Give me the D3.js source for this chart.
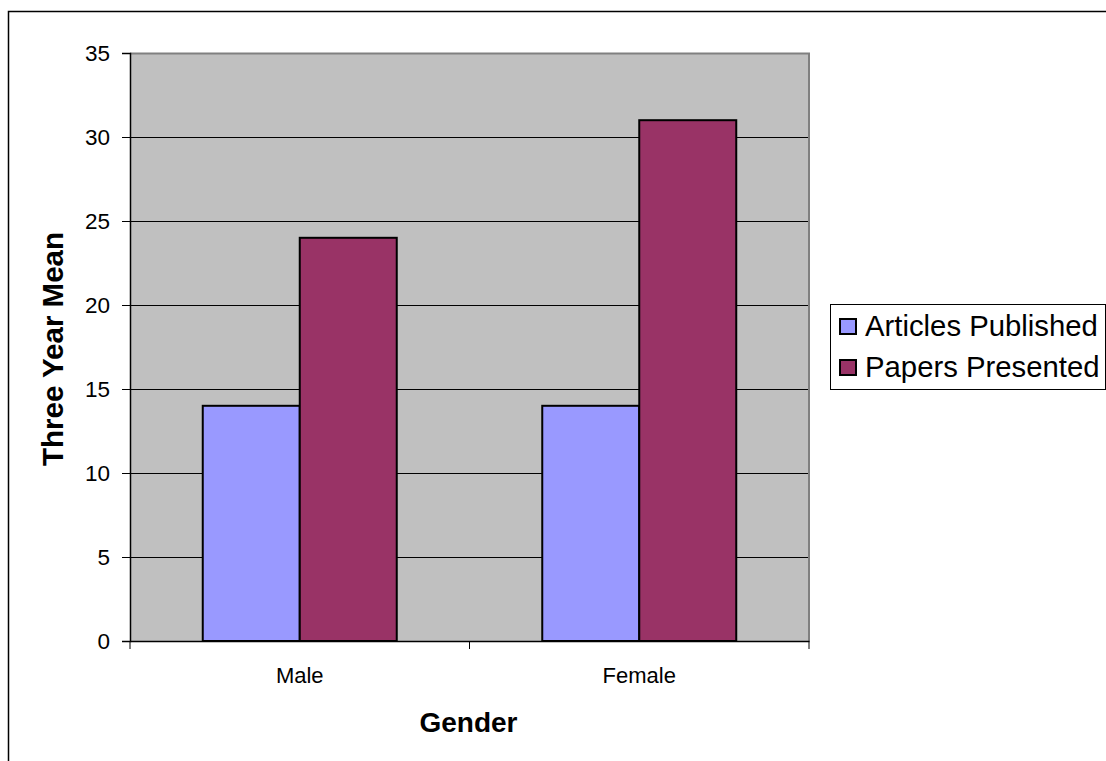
<!DOCTYPE html>
<html>
<head>
<meta charset="utf-8">
<script src="https://cdn.jsdelivr.net/npm/d3@7"></script>
<style>
  html, body { margin: 0; padding: 0; background: #fff; }
  svg { display: block; font-family: Arial, "Liberation Sans", sans-serif; }
</style>
</head>
<body>
<svg id="chart" width="1106" height="761"></svg>
<script>
// Categories, series and tick labels
const categories = ["Male", "Female"];
const seriesNames = ["Articles Published", "Papers Presented"];
const articlesPublished = [14, 14];
const papersPresented = [24, 31];
const yTicks = [0, 5, 10, 15, 20, 25, 30, 35];
const seriesColors = ["#9999FF", "#993366"];

const seriesValues = [articlesPublished, papersPresented];

const svg = d3.select("#chart");
const W = 1106, H = 761;

// Outer chart frame (only the top and left edges fall inside the page)
svg.append("rect")
  .attr("x", 8.5).attr("y", 11.5)
  .attr("width", W + 20).attr("height", H + 20)
  .attr("fill", "#fff").attr("stroke", "#000").attr("stroke-width", 1.5);

const plot = { left: 130, top: 53, right: 809, bottom: 641 };

const x = d3.scaleBand().domain(categories).range([plot.left, plot.right]).paddingInner(0).paddingOuter(0);
const y = d3.scaleLinear().domain([0, 35]).range([plot.bottom, plot.top]);

// Plot background
svg.append("rect")
  .attr("x", plot.left).attr("y", plot.top)
  .attr("width", plot.right - plot.left).attr("height", plot.bottom - plot.top)
  .attr("fill", "#C0C0C0");

// Horizontal gridlines
svg.append("g").selectAll("line")
  .data(yTicks.filter(d => d > 0 && d < 35))
  .join("line")
  .attr("x1", plot.left).attr("x2", plot.right)
  .attr("y1", d => Math.round(y(d)) + 0.5).attr("y2", d => Math.round(y(d)) + 0.5)
  .attr("stroke", "#000").attr("stroke-width", 1);

// Plot border (top and right, grey)
svg.append("path")
  .attr("d", `M${plot.left},${plot.top + 0.5}H${plot.right}V${plot.bottom}`)
  .attr("fill", "none").attr("stroke", "#808080").attr("stroke-width", 2);

// Bars: group width is 2 bars plus a 1.5-bar gap
const barW = x.bandwidth() / 3.5;
const groups = svg.append("g").selectAll("g")
  .data(categories)
  .join("g");

groups.selectAll("rect")
  .data((c, ci) => seriesValues.map((vals, si) => ({ c, si, v: vals[ci] })))
  .join("rect")
  .attr("x", d => x(d.c) + x.bandwidth() / 2 + (d.si - 1) * barW)
  .attr("y", d => y(d.v))
  .attr("width", barW)
  .attr("height", d => y(0) - y(d.v))
  .attr("fill", d => seriesColors[d.si])
  .attr("stroke", "#000").attr("stroke-width", 2);

// Y axis
const yAxis = d3.axisLeft(y).tickValues(yTicks).tickSize(8).tickPadding(12).tickFormat(d3.format("d"));
const gy = svg.append("g").attr("transform", `translate(${plot.left},0)`).call(yAxis);
gy.select(".domain").attr("stroke", "#000").attr("stroke-width", 1.5);
gy.selectAll(".tick line").attr("stroke", "#000").attr("stroke-width", 1);
gy.selectAll(".tick text").attr("font-size", 22.5).attr("fill", "#000")
  .attr("font-family", "Arial, 'Liberation Sans', sans-serif");

// X axis: ticks sit at category boundaries
const xAxis = d3.axisBottom(x).tickSize(0).tickPadding(26);
const gx = svg.append("g").attr("transform", `translate(0,${plot.bottom})`).call(xAxis);
gx.select(".domain").attr("stroke", "#000").attr("stroke-width", 1.5);
gx.selectAll(".tick text").attr("font-size", 22).attr("fill", "#000")
  .attr("font-family", "Arial, 'Liberation Sans', sans-serif");
const bounds = categories.map(c => x(c)).concat([x(categories[categories.length - 1]) + x.bandwidth()]);
svg.append("g").selectAll("line")
  .data(bounds)
  .join("line")
  .attr("x1", d => d).attr("x2", d => d)
  .attr("y1", plot.bottom).attr("y2", plot.bottom + 8)
  .attr("stroke", "#000").attr("stroke-width", 1);

// Axis titles
svg.append("text")
  .attr("x", (plot.left + plot.right) / 2 - 1).attr("y", 732)
  .attr("text-anchor", "middle")
  .attr("font-size", 28).attr("font-weight", "bold")
  .text("Gender");

svg.append("text")
  .attr("transform", `translate(63,${(plot.top + plot.bottom) / 2 + 2}) rotate(-90)`)
  .attr("text-anchor", "middle")
  .attr("font-size", 29.5).attr("font-weight", "bold")
  .text("Three Year Mean");

// Legend
const legend = svg.append("g");
legend.append("rect")
  .attr("x", 830.5).attr("y", 304.5)
  .attr("width", 275).attr("height", 85)
  .attr("fill", "#fff").attr("stroke", "#000").attr("stroke-width", 1);

const items = legend.selectAll("g.item")
  .data(seriesNames)
  .join("g")
  .attr("class", "item")
  .attr("transform", (d, i) => `translate(0,${i * 41})`);

items.append("rect")
  .attr("x", 840).attr("y", 319)
  .attr("width", 16).attr("height", 15)
  .attr("fill", (d, i) => seriesColors[i])
  .attr("stroke", "#000").attr("stroke-width", 2);

items.append("text")
  .attr("x", 865).attr("y", 336)
  .attr("font-size", 29.3).attr("fill", "#000")
  .text(d => d);
</script>
</body>
</html>
